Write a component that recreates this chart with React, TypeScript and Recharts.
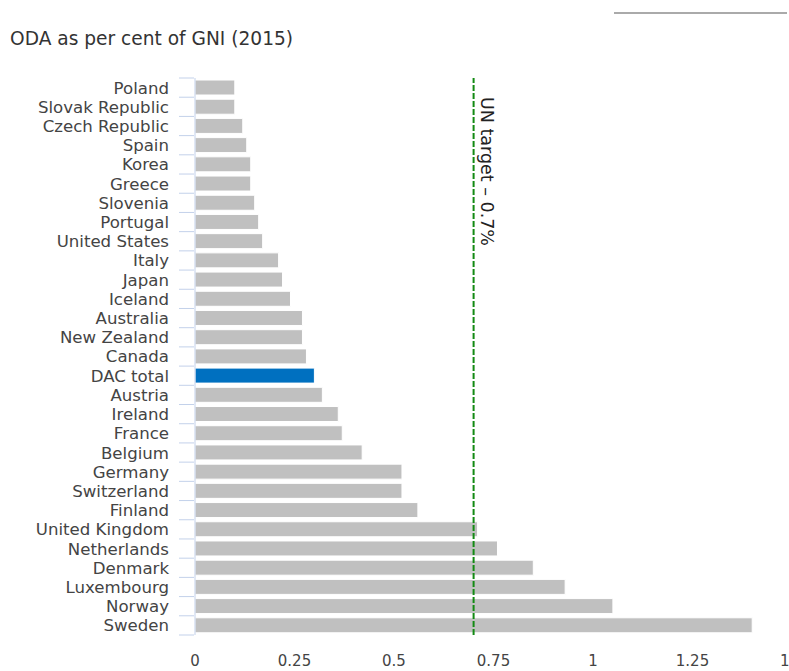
import React from "react";
import {
  BarChart,
  Bar,
  Cell,
  XAxis,
  YAxis,
  ReferenceLine,
} from "recharts";

const countries = [
  "Poland",
  "Slovak Republic",
  "Czech Republic",
  "Spain",
  "Korea",
  "Greece",
  "Slovenia",
  "Portugal",
  "United States",
  "Italy",
  "Japan",
  "Iceland",
  "Australia",
  "New Zealand",
  "Canada",
  "DAC total",
  "Austria",
  "Ireland",
  "France",
  "Belgium",
  "Germany",
  "Switzerland",
  "Finland",
  "United Kingdom",
  "Netherlands",
  "Denmark",
  "Luxembourg",
  "Norway",
  "Sweden",
];

const odaPct = [
  0.1, 0.1, 0.12, 0.13, 0.14, 0.14, 0.15, 0.16, 0.17, 0.21, 0.22, 0.24, 0.27,
  0.27, 0.28, 0.3, 0.32, 0.36, 0.37, 0.42, 0.52, 0.52, 0.56, 0.71, 0.76, 0.85,
  0.93, 1.05, 1.4,
];

const xTicks = [0, 0.25, 0.5, 0.75, 1, 1.25, 1.5];
const unTarget = 0.7;
const highlight = "DAC total";

const FONT = "'DejaVu Sans', Verdana, sans-serif";

const data = countries.map((name, i) => ({ name, value: odaPct[i] }));

// category tick: label in the middle, small tick marks on the band edges
function CountryTick(props: any) {
  const { x, y, payload, index } = props;
  const half = payload && payload.offset ? payload.offset : 9.6;
  return (
    <g>
      <line x1={x - 16} x2={x - 1} y1={y + half} y2={y + half} stroke="#c3d1ea" />
      {index === 0 && (
        <line x1={x - 16} x2={x - 1} y1={y - half} y2={y - half} stroke="#c3d1ea" />
      )}
      <text
        x={x - 26}
        y={y}
        dy="0.36em"
        textAnchor="end"
        fontSize={16.6}
        fontFamily={FONT}
        fill="#444"
      >
        {payload.value}
      </text>
    </g>
  );
}

function UnLabel(props: any) {
  const vb = props.viewBox || { x: 0, y: 0 };
  const x = vb.x + 7;
  const y = vb.y + 19;
  return (
    <text
      x={x}
      y={y}
      transform={`rotate(90 ${x} ${y})`}
      fontSize={17.5}
      fontFamily={FONT}
      fill="#222"
    >
      UN target – 0.7%
    </text>
  );
}

export default function App() {
  return (
    <div
      style={{
        position: "absolute",
        left: 0,
        top: 0,
        width: 789,
        height: 671,
        overflow: "hidden",
        background: "#fff",
      }}
    >
      <div
        style={{
          position: "absolute",
          left: 614,
          top: 12,
          width: 173,
          height: 0,
          borderTop: "2px solid #aaa",
        }}
      />
      <div
        style={{
          position: "absolute",
          left: 10,
          top: 28,
          fontFamily: FONT,
          fontSize: 18.6,
          color: "#333",
          whiteSpace: "nowrap",
        }}
      >
        ODA as per cent of GNI (2015)
      </div>
      <BarChart
        width={800}
        height={671}
        data={data}
        layout="vertical"
        margin={{ top: 78, right: 8, bottom: 6, left: 0 }}
        barCategoryGap={0}
      >
        <XAxis
          type="number"
          domain={[0, 1.5]}
          ticks={xTicks}
          axisLine={false}
          tickLine={false}
          tickSize={6}
          tickMargin={14}
          height={30}
          interval={0}
          tick={{ fontSize: 15, fontFamily: FONT, fill: "#444" }}
        />
        <YAxis
          type="category"
          dataKey="name"
          width={195}
          interval={0}
          axisLine={{ stroke: "#c3d1ea" }}
          tickLine={false}
          tickSize={0}
          tickMargin={0}
          tick={<CountryTick />}
        />
        <Bar dataKey="value" barSize={15} stroke="#fff" strokeWidth={1} isAnimationActive={false}>
          {data.map((d) => (
            <Cell key={d.name} fill={d.name === highlight ? "#0070c0" : "#c0c0c0"} />
          ))}
        </Bar>
        <ReferenceLine
          x={unTarget}
          stroke="#138a13"
          strokeWidth={2}
          strokeDasharray="6 2"
          label={<UnLabel />}
        />
      </BarChart>
    </div>
  );
}
